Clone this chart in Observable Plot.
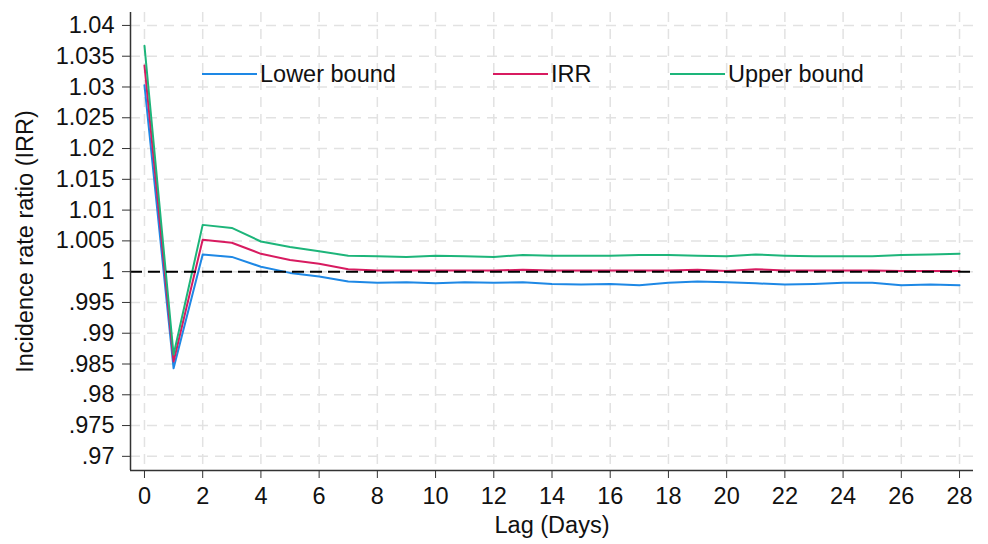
<!DOCTYPE html>
<html><head><meta charset="utf-8">
<script src="https://cdn.jsdelivr.net/npm/d3@7"></script>
<script src="https://cdn.jsdelivr.net/npm/@observablehq/plot@0.6"></script>
<style>
body{margin:0;background:#fff;font-family:"Liberation Sans",Arial,sans-serif;}
#wrap{position:relative;width:988px;height:544px;}
.leg{position:absolute;top:61px;height:26px;display:flex;align-items:center;font-size:23.5px;color:#111;white-space:nowrap;}
.leg span.sw{display:inline-block;width:55px;height:2.5px;margin-right:3px;}
</style></head><body>
<div id="wrap"><div id="chart"></div></div>
<script>
const lags = [0,1,2,3,4,5,6,7,8,9,10,11,12,13,14,15,16,17,18,19,20,21,22,23,24,25,26,27,28];
const lower = [1.0303,0.9843,1.0028,1.0024,1.0008,0.9998,0.9992,0.9984,0.9982,0.9983,0.9981,0.9983,0.9982,0.9983,0.9980,0.9979,0.9980,0.9978,0.9982,0.9984,0.9983,0.9981,0.9979,0.9980,0.9982,0.9982,0.9978,0.9979,0.9978];
const irr   = [1.0335,0.9854,1.0052,1.0047,1.0029,1.0019,1.0013,1.0004,1.0002,1.0002,1.0002,1.0002,1.0002,1.0003,1.0002,1.0002,1.0002,1.0002,1.0002,1.0003,1.0001,1.0004,1.0002,1.0002,1.0002,1.0002,1.0001,1.0001,1.0001];
const upper = [1.0367,0.9865,1.0076,1.0071,1.0049,1.0040,1.0033,1.0026,1.0025,1.0024,1.0026,1.0025,1.0024,1.0027,1.0026,1.0026,1.0026,1.0027,1.0027,1.0026,1.0025,1.0028,1.0026,1.0025,1.0025,1.0025,1.0027,1.0028,1.0029];
const xTicks = [0,2,4,6,8,10,12,14,16,18,20,22,24,26,28];
const yTicks = [0.97,0.975,0.98,0.985,0.99,0.995,1,1.005,1.01,1.015,1.02,1.025,1.03,1.035,1.04];
const seriesNames = ["Lower bound","IRR","Upper bound"];
const seriesColors = ["#1e88e5","#d81b60","#1db57a"];
const referenceValue = [1];
const xDomain = [-0.48, 28.48];
const yDomain = [0.9677, 1.0421];

const seriesValues = [lower, irr, upper];
const rows = [];
seriesNames.forEach((name, i) => lags.forEach((l, j) => rows.push({lag: l, value: seriesValues[i][j], series: name})));
const fmt = d => { const s = String(+d.toFixed(3)); return s.startsWith("0.") ? s.slice(1) : s; };
const font = '"Liberation Sans", Arial, sans-serif';
const fs = 23.5;

const chart = Plot.plot({
  width: 988, height: 544,
  marginLeft: 130, marginRight: 15, marginTop: 12, marginBottom: 74,
  style: {fontFamily: font, fontSize: fs + "px", color: "#111", background: "#fff", overflow: "visible"},
  x: {domain: xDomain},
  y: {domain: yDomain},
  color: {domain: seriesNames, range: seriesColors},
  marks: [
    Plot.gridY(yTicks, {stroke: "#e2e2e2", strokeOpacity: 1, strokeWidth: 1.5, strokeDasharray: "10,7"}),
    Plot.gridX(xTicks, {stroke: "#e2e2e2", strokeOpacity: 1, strokeWidth: 1.5, strokeDasharray: "10,7"}),
    Plot.line(rows, {x: "lag", y: "value", z: "series", stroke: "series", strokeWidth: 2}),
    Plot.ruleY(referenceValue, {stroke: "#000", strokeWidth: 2, strokeDasharray: "12,6"}),
    Plot.axisY(yTicks, {tickFormat: fmt, tickSize: 8, tickPadding: 8, fontSize: fs, label: null, stroke: "#333", fill: "#111"}),
    Plot.axisX(xTicks, {tickSize: 8, tickPadding: 9, fontSize: fs, label: null, stroke: "#333", fill: "#111"}),
    Plot.ruleX([xDomain[0]], {stroke: "#333", strokeWidth: 1.5}),
    Plot.ruleY([yDomain[0]], {stroke: "#333", strokeWidth: 1.5}),
    Plot.text(["Lag (Days)"], {frameAnchor: "bottom", lineAnchor: "middle", textAnchor: "middle", dy: 55, fontSize: fs, fill: "#111"}),
    Plot.text(["Incidence rate ratio (IRR)"], {frameAnchor: "left", lineAnchor: "middle", textAnchor: "middle", rotate: -90, dx: -105, fontSize: fs, fill: "#111"})
  ]
});
document.getElementById("chart").appendChild(chart);

const legendLefts = [202, 493, 670];
const wrap = document.getElementById("wrap");
seriesNames.forEach((name, i) => {
  const d = document.createElement("div");
  d.className = "leg";
  d.style.left = legendLefts[i] + "px";
  const sw = document.createElement("span");
  sw.className = "sw";
  sw.style.background = seriesColors[i];
  d.appendChild(sw);
  d.appendChild(document.createTextNode(name));
  wrap.appendChild(d);
});
</script>
</body></html>
